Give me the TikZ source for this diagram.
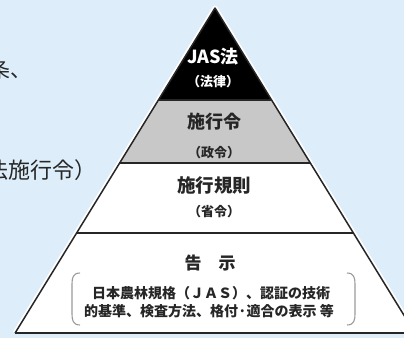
\documentclass[tikz,border=0pt]{standalone}
\usepackage{fontspec}
\newfontfamily\jp{Noto Sans CJK JP}
\definecolor{bg}{HTML}{DDEEFA}
\definecolor{ink}{HTML}{262626}
\definecolor{midgray}{HTML}{C8C8C8}
\definecolor{brk}{HTML}{9A9A9A}
\begin{document}
\begin{tikzpicture}[x=1pt,y=-1pt,
  lbl/.style={inner sep=0pt, text=ink, font=\jp\bfseries\fontsize{#1}{#1}\selectfont},
  side/.style={inner sep=0pt, anchor=west, text=ink, font=\jp\fontsize{#1}{#1}\selectfont},
  tier/.style={ink, line width=1.6pt},
  bracket/.style={brk, line width=1.1pt}]
\fill[bg] (0,0) rectangle (404,338);
\useasboundingbox (0,0) rectangle (404,338);
\clip (0,0) rectangle (404,338);
% pyramid geometry
\coordinate (A) at (215,8);
\coordinate (L1) at (158.4,100); \coordinate (R1) at (271.6,100);
\coordinate (L2) at (119.7,163); \coordinate (R2) at (310.3,163);
\coordinate (L3) at (76.6,233);  \coordinate (R3) at (353.4,233);
\coordinate (L4) at (15.1,333);  \coordinate (R4) at (414.9,333);
% white halo
\draw[white, line width=5pt, line join=round] (L4) -- (A) -- (R4);
\fill[white] (A) -- (L4) -- (R4) -- cycle;
\fill[midgray] (L1) -- (R1) -- (R2) -- (L2) -- cycle;
\fill[black] (A) -- (L1) -- (R1) -- cycle;
\draw[ink, line width=1.5pt, line join=round] (L4) -- (A) -- (R4);
\draw[tier] (L1) -- (R1);
\draw[tier] (L2) -- (R2);
\draw[tier] (L3) -- (R3);
\draw[ink, line width=2pt] (L4) -- (R4);
% texts
\node[lbl=18, text=white] (jas) at (213,57) {JAS法};
\node[lbl=13, text=white] (horitsu) at (213,82) {（法律）};
\node[lbl=18] (shikorei) at (214,122) {施行令};
\node[lbl=13] (seirei) at (214,153) {（政令）};
\node[lbl=18.5] (kisoku) at (214,185) {施行規則};
\node[lbl=13] (shorei) at (214,212) {（省令）};
\node[lbl=17] (kokuji) at (210,263) {告\hspace{1em}示};
\node[lbl=14] (line1) at (211,293) {日本農林規格（ＪＡＳ）、認証の技術};
\node[lbl=14] (line2) at (209,311) {的基準、検査方法、格付·適合の表示 等};
% brackets
\draw[bracket] (80,273) .. controls (73,273) and (72,278) .. (72,284) -- (72,314) .. controls (72,320) and (73,325) .. (80,325);
\draw[bracket] (347,273) .. controls (354,273) and (355,278) .. (355,284) -- (355,314) .. controls (355,320) and (354,325) .. (347,325);
% left side text (cut off at the left edge, as in the reference)
\node[side=21] (left1) at (-11,69) {条、};
\node[side=22] (left2) at (-14,170) {法施行令）};
\end{tikzpicture}
\end{document}
